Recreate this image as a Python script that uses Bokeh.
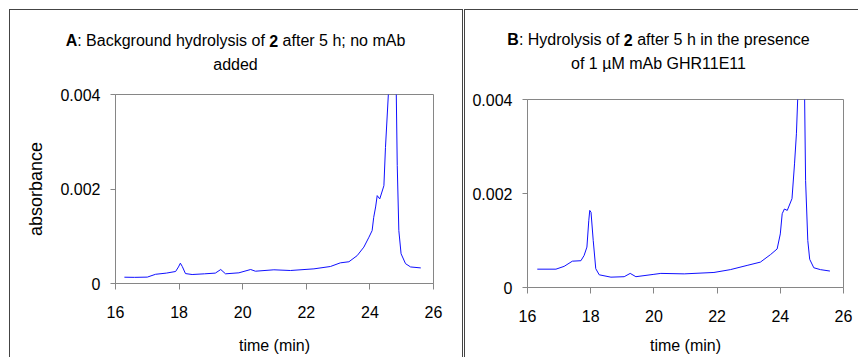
from bokeh.plotting import figure
from bokeh.models import Range1d, FixedTicker, NumeralTickFormatter
from bokeh.core.properties import value
from bokeh.layouts import row, column
from bokeh.embed import file_html
from bokeh.resources import INLINE

# ---------------- data ----------------
time_a = [16.28, 16.6, 17.0, 17.26, 17.6, 17.89, 17.98, 18.04, 18.1, 18.2, 18.41, 18.8,
          19.14, 19.31, 19.46, 19.88, 20.25, 20.4, 20.98, 21.5, 22.24, 22.76, 23.07,
          23.34, 23.6, 23.81, 23.97, 24.07, 24.12, 24.18, 24.23, 24.31, 24.44, 24.49,
          24.58, 24.66, 24.75, 24.83, 24.86, 24.91, 24.98, 25.12, 25.28, 25.6]
abs_a = [0.000133, 0.000130, 0.000135, 0.000195, 0.00022, 0.000254, 0.00035, 0.00043,
         0.00036, 0.00021, 0.00019, 0.000205, 0.00022, 0.000296, 0.000205, 0.000226,
         0.000296, 0.00026, 0.00029, 0.000275, 0.00031, 0.00036, 0.000437, 0.00046,
         0.00059, 0.00077, 0.00098, 0.00112, 0.00140, 0.00162, 0.00186, 0.00179,
         0.00207, 0.00288, 0.0040, 0.0085, 0.0085, 0.0040, 0.0025, 0.00112, 0.00063,
         0.00042, 0.00035, 0.00033]

time_b = [16.31, 16.9, 17.16, 17.42, 17.69, 17.79, 17.88, 17.94, 17.97, 18.01, 18.08,
          18.16, 18.27, 18.64, 19.06, 19.25, 19.43, 20.0, 20.22, 20.96, 21.9, 22.42,
          22.95, 23.37, 23.69, 23.9, 24.0, 24.06, 24.13, 24.22, 24.37, 24.45, 24.51,
          24.55, 24.62, 24.70, 24.77, 24.80, 24.87, 24.93, 25.06, 25.27, 25.57]
abs_b = [0.00039, 0.00039, 0.00045, 0.00056, 0.00057, 0.00068, 0.00086, 0.00143, 0.00164,
         0.00160, 0.00100, 0.00040, 0.00027, 0.00022, 0.00023, 0.00030, 0.00023, 0.00028,
         0.00030, 0.00029, 0.00032, 0.00038, 0.00047, 0.00054, 0.00070, 0.00082, 0.00114,
         0.00157, 0.00167, 0.00164, 0.00189, 0.00263, 0.00327, 0.0040, 0.0080, 0.0080,
         0.0040, 0.00228, 0.00100, 0.00060, 0.00042, 0.00038, 0.00035]

x_ticks = [16, 18, 20, 22, 24, 26]
y_ticks = [0, 0.002, 0.004]
x_label = "time (min)"
y_label = "absorbance"

title_a = [("A", "bold"), (": Background hydrolysis of ", "normal"), ("2", "bold"),
           (" after 5 h; no mAb", "normal")]
title_a2 = "added"
title_b = [("B", "bold"), (": Hydrolysis of ", "normal"), ("2", "bold"),
           (" after 5 h in the presence", "normal")]
title_b2 = "of 1 \u00b5M mAb GHR11E11"

# ---------------- styling ----------------
FONT = "Liberation Sans"
FS = 16
AX = "#868686"
LINE = "#0f0fff"
BORDER = "1px solid #444444"
X0, X1, Y0, Y1 = 16, 26, 0, 0.004
TITLE_H = 62

REG = {' ': 278, ':': 278, ';': 278, 'A': 667, 'B': 667, 'E': 667, 'G': 778, 'H': 722,
       'M': 833, 'R': 722, 'a': 556, 'b': 556, 'c': 500, 'd': 556, 'e': 556, 'f': 278,
       'g': 556, 'h': 556, 'i': 222, 'k': 500, 'l': 222, 'm': 833, 'n': 556, 'o': 556,
       'p': 556, 'r': 333, 's': 500, 't': 278, 'u': 556, 'y': 500, '\u00b5': 556}
BOLD = {'A': 722, 'B': 722, '2': 556}


def width(s, style):
    table = BOLD if style == "bold" else REG
    return sum(table.get(c, 556) for c in s) * FS / 1000.0


def title_fig(w, pieces, line2, cx, y1, y2):
    # a plain canvas whose data units are pixels (x from left, y up from bottom)
    t = figure(width=w, height=TITLE_H, x_range=Range1d(0, w), y_range=Range1d(0, TITLE_H),
               toolbar_location=None, output_backend="svg", title=None,
               x_axis_location=None, y_axis_location=None, min_border=0,
               frame_align=False)
    t.outline_line_color = None
    t.grid.visible = False
    t.background_fill_color = "white"
    t.border_fill_color = "white"
    total = sum(width(s, st) for s, st in pieces)
    x = cx - total / 2.0
    xs = {"normal": [], "bold": []}
    txt = {"normal": [], "bold": []}
    for s, st in pieces:
        lead = len(s) - len(s.lstrip(' '))
        xs[st].append(x + width(' ' * lead, st))
        txt[st].append(s.strip(' '))
        x += width(s, st)
    for st in ("normal", "bold"):
        t.text(x=xs[st], y=[y1] * len(xs[st]), text=txt[st], text_font=value(FONT),
               text_font_size=value(f"{FS}px"), text_font_style=value(st),
               text_align="left", text_baseline="alphabetic", text_color="black")
    t.text(x=[cx], y=[y2], text=[line2], text_font=value(FONT),
           text_font_size=value(f"{FS}px"), text_align="center",
           text_baseline="alphabetic", text_color="black")
    return t


def make(t, a, fw, fh, mbl, mbr, mbt, mbb, ylab, xlab_standoff):
    p = figure(frame_width=fw, frame_height=fh, min_border_left=mbl, min_border_right=mbr,
               min_border_top=mbt, min_border_bottom=mbb, x_range=Range1d(X0, X1),
               y_range=Range1d(Y0, Y1), toolbar_location=None, output_backend="svg",
               title=None, frame_align=False)
    p.line(t, a, line_color=LINE, line_width=1)
    p.xgrid.visible = False
    p.ygrid.visible = False
    p.outline_line_color = AX
    p.background_fill_color = "white"
    p.border_fill_color = "white"
    p.xaxis.ticker = FixedTicker(ticks=x_ticks)
    p.yaxis.ticker = FixedTicker(ticks=y_ticks)
    p.yaxis.formatter = NumeralTickFormatter(format="0.[000]")
    for ax in (p.xaxis[0], p.yaxis[0]):
        ax.axis_line_color = AX
        ax.major_tick_line_color = AX
        ax.minor_tick_line_color = None
        ax.major_tick_in = 0
        ax.major_label_text_font = FONT
        ax.major_label_text_font_size = f"{FS}px"
        ax.major_label_text_color = "black"
        ax.axis_label_text_font = FONT
        ax.axis_label_text_font_style = "normal"
        ax.axis_label_text_color = "black"
    p.xaxis.major_tick_out = 6
    p.yaxis.major_tick_out = 5
    p.xaxis.major_label_standoff = 16
    p.yaxis.major_label_standoff = 10
    p.xaxis.axis_label = x_label
    p.xaxis.axis_label_text_font_size = f"{FS}px"
    p.xaxis.axis_label_standoff = xlab_standoff
    if ylab:
        p.yaxis.axis_label = ylab
        p.yaxis.axis_label_text_font_size = "18px"
        p.yaxis.axis_label_standoff = 11
    return p


# left panel
ta = title_fig(452, title_a, title_a2, 225, 32, 8)
pa = make(time_a, abs_a, 318, 189, 105, 29, 22, 74, y_label, 16)
col_a = column(ta, pa, spacing=0, margin=(9, 0, 0, 9),
               styles={"border-left": BORDER, "border-top": BORDER, "border-right": BORDER})

# right panel
tb = title_fig(393, title_b, title_b2, 193, 33, 9)
pb = make(time_b, abs_b, 316, 188, 62, 15, 27, 70, None, 12)
col_b = column(tb, pb, spacing=0, margin=(9, 0, 0, 1),
               styles={"border-left": BORDER, "border-top": BORDER})

layout = row(col_a, col_b, spacing=0)
open("out.html", "w").write(file_html(layout, INLINE))
